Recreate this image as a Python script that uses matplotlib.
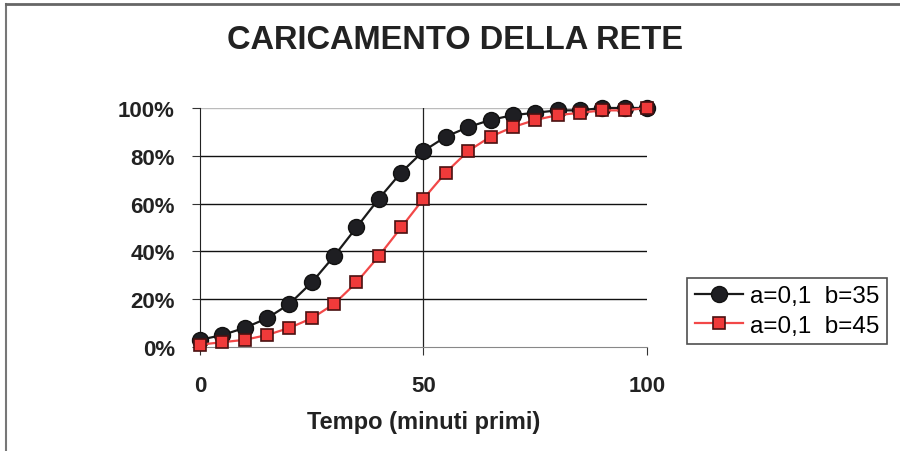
import matplotlib
matplotlib.use("Agg")
import matplotlib.pyplot as plt
from matplotlib.lines import Line2D
from matplotlib.ticker import FuncFormatter

# time in minutes
tempo = [0, 5, 10, 15, 20, 25, 30, 35, 40, 45, 50,
         55, 60, 65, 70, 75, 80, 85, 90, 95, 100]
# load fraction, a=0,1 b=35
carico_b35 = [0.03, 0.05, 0.08, 0.12, 0.18, 0.27, 0.38, 0.50, 0.62, 0.73, 0.82,
              0.88, 0.92, 0.95, 0.97, 0.98, 0.99, 0.99, 1.00, 1.00, 1.00]
# load fraction, a=0,1 b=45
carico_b45 = [0.01, 0.02, 0.03, 0.05, 0.08, 0.12, 0.18, 0.27, 0.38, 0.50, 0.62,
              0.73, 0.82, 0.88, 0.92, 0.95, 0.97, 0.98, 0.99, 0.99, 1.00]
labels = ["a=0,1  b=35", "a=0,1  b=45"]
x_ticks = [0, 50, 100]
y_ticks = [0, 0.2, 0.4, 0.6, 0.8, 1.0]

plt.rcParams["font.family"] = ["Liberation Sans", "DejaVu Sans"]

fig = plt.figure(figsize=(9, 4.52), dpi=100)
ax = fig.add_axes([0.2222, 0.2301, 0.4967, 0.5288])

ax.plot(tempo, carico_b35, "-o", color="#1a1a1a", linewidth=1.6,
        markersize=11.5, markerfacecolor="#1e1e22", markeredgecolor="#111111",
        label=labels[0], clip_on=False, zorder=3)
ax.plot(tempo, carico_b45, "-s", color="#f24848", linewidth=1.6,
        markersize=8.5, markerfacecolor="#f03a3a", markeredgecolor="#4a1010",
        markeredgewidth=1.2, label=labels[1], clip_on=False, zorder=4)

ax.set_xlim(0, 100)
ax.set_ylim(0, 1.0)
ax.set_xticks(x_ticks)
ax.set_yticks(y_ticks)
ax.yaxis.set_major_formatter(FuncFormatter(lambda v, _: f"{v:.0%}"))

for y in y_ticks[1:-1]:
    ax.axhline(y, color="#111111", linewidth=1.0, zorder=1)
ax.axhline(1.0, color="#bbbbbb", linewidth=1.0, zorder=1)
ax.axvline(50, color="#222222", linewidth=0.9, zorder=1)

for side in ["top", "right"]:
    ax.spines[side].set_visible(False)
ax.spines["left"].set_color("#222222")
ax.spines["bottom"].set_color("#888888")
ax.tick_params(axis="both", labelsize=16, length=6, color="#333333")
ax.tick_params(axis="y", pad=12)
ax.tick_params(axis="x", pad=14)
for lab in ax.get_xticklabels() + ax.get_yticklabels():
    lab.set_fontweight("bold")
    lab.set_color("#222222")

ax.set_xlabel("Tempo (minuti primi)", fontsize=17, fontweight="bold",
              color="#222222", labelpad=10)
fig.text(0.506, 0.91, "CARICAMENTO DELLA RETE", ha="center", va="center",
         fontsize=23.5, fontweight="bold", color="#222222")

leg = ax.legend(loc="center left", bbox_to_anchor=(1.09, 0.15),
                fontsize=17.5, frameon=True, fancybox=False, handlelength=2.0,
                borderpad=0.3, labelspacing=0.3, handletextpad=0.3,
                borderaxespad=0)
leg.get_frame().set_edgecolor("#222222")
leg.get_frame().set_linewidth(1.2)

fig.add_artist(Line2D([0.007, 0.007], [0.0, 0.988], color="#777777", linewidth=1.5))
fig.add_artist(Line2D([0.007, 1.0], [0.988, 0.988], color="#666666", linewidth=2))

fig.savefig("out.png", dpi=100)
